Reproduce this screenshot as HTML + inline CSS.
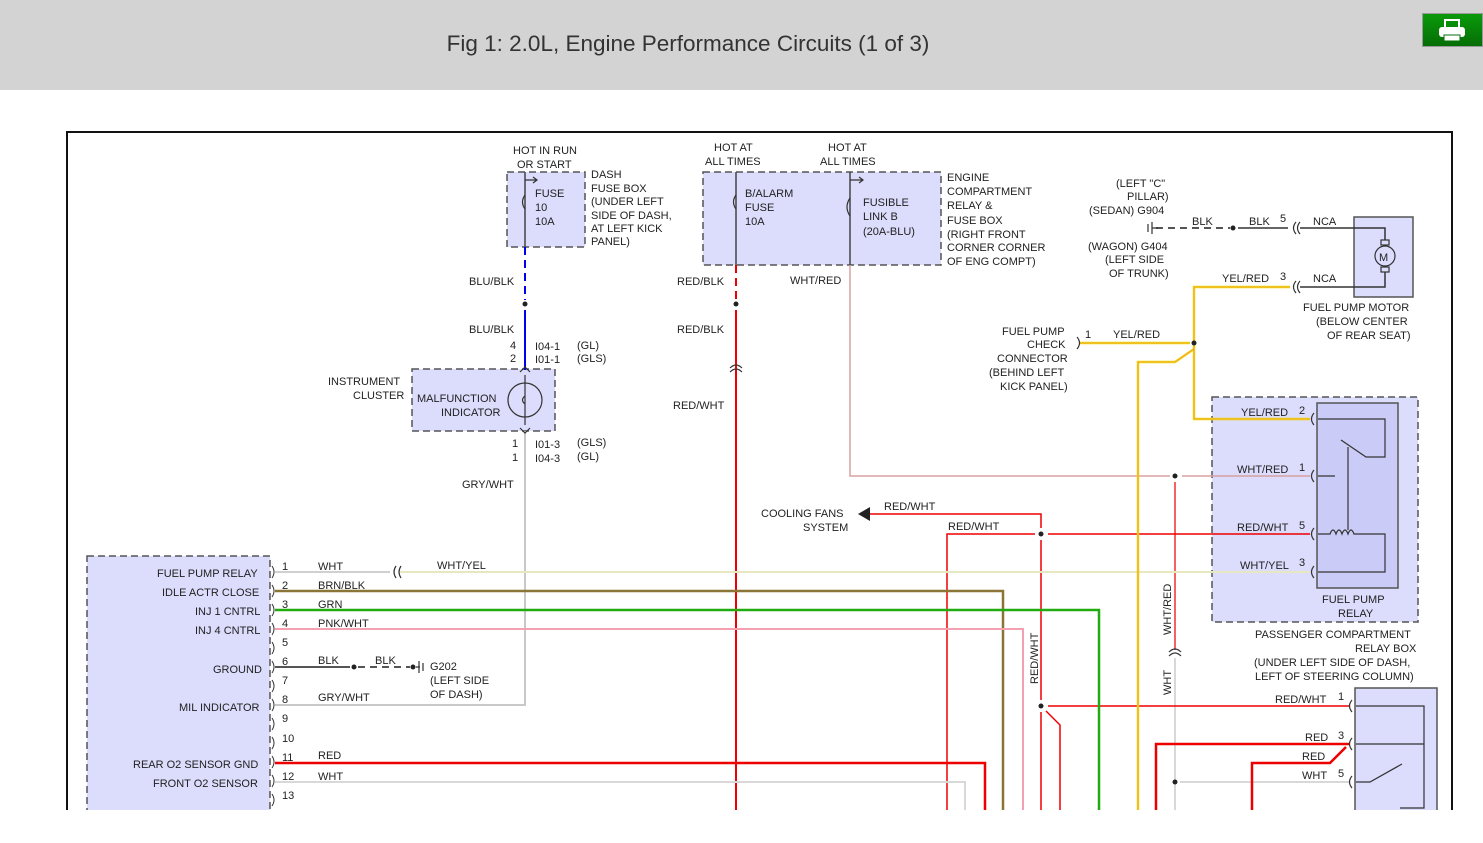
<!DOCTYPE html>
<html><head><meta charset="utf-8"><style>
body{margin:0;width:1483px;height:843px;overflow:hidden;background:#fff;font-family:"Liberation Sans",sans-serif}
.hd{position:absolute;left:0;top:0;width:1483px;height:90px;background:#d3d3d3}
.tt{position:absolute;left:0;width:1376px;top:31px;text-align:center;font-size:22.5px;color:#333}
.pb{position:absolute;left:1422px;top:13px;width:61px;height:34px;background:linear-gradient(#0a9a0a,#066e06);border:1px solid #999;box-sizing:border-box}
svg{position:absolute;left:0;top:0}
text{font-family:"Liberation Sans",sans-serif;font-size:11px;fill:#222}
</style></head><body>
<div class="hd"><div class="tt">Fig 1: 2.0L, Engine Performance Circuits (1 of 3)</div>
<div class="pb"><svg width="59" height="32" viewBox="0 0 59 32"><rect x="22" y="6" width="14" height="8" fill="none" stroke="#fff" stroke-width="2"/><rect x="16" y="13" width="26" height="10" rx="3" fill="#fff"/><rect x="21" y="21" width="16" height="6" fill="#fff" stroke="#066e06"/></svg></div></div>
<svg width="1483" height="843">
<rect x="67" y="132" width="1385" height="690" fill="none" stroke="#111" stroke-width="2"/>
<g stroke="#555" stroke-width="1.5" stroke-dasharray="7,4" fill="#dcdcfc">
<rect x="507" y="172" width="78" height="75"/>
<rect x="703" y="172" width="238" height="93"/>
<rect x="412" y="369" width="143" height="62"/>
<rect x="1212" y="397" width="206" height="225"/>
<rect x="87" y="556" width="183" height="260"/>
</g>
<rect x="1317" y="403" width="81" height="185" fill="#cbcbf8" stroke="#555" stroke-width="1.5"/>
<rect x="1354" y="217" width="59" height="80" fill="#dcdcfc" stroke="#555" stroke-width="1.5"/>
<rect x="1355" y="688" width="82" height="130" fill="#dcdcfc" stroke="#555" stroke-width="1.5"/>
<g fill="none" stroke-width="2">
<line x1="525" y1="172" x2="525" y2="247" stroke="#444" stroke-width="1.5"/>
<line x1="525" y1="247" x2="525" y2="300" stroke="#0000ee" stroke-dasharray="8,5"/>
<line x1="525" y1="310" x2="525" y2="370" stroke="#0000ee"/>
<path d="M525 431 V705 H275" stroke="#c8c8c8"/>
<line x1="736" y1="172" x2="736" y2="265" stroke="#444" stroke-width="1.5"/>
<line x1="736" y1="265" x2="736" y2="300" stroke="#ee0000" stroke-dasharray="8,5"/>
<line x1="736" y1="310" x2="736" y2="810" stroke="#ee0000"/>
<line x1="850" y1="172" x2="850" y2="265" stroke="#444" stroke-width="1.5"/>
<path d="M850 265 V476 H1170 M1182 476 H1310" stroke="#d8a0a0" stroke-width="1.5"/>
<path d="M1175 482 V650" stroke="#ee3030" stroke-width="1.5"/>
<path d="M1175 658 V810" stroke="#d8d8d8"/>
<path d="M870 514 H1041 V528 M1041 540 V700 M1041 712 V810 M1046 711 L1060 725 V810" stroke="#ee0000" stroke-width="1.5"/>
<path d="M947 810 V534 H1035 M1048 534 H1310 M1048 706 H1350" stroke="#ee0000" stroke-width="1.5"/>
<path d="M1180 782 H1350" stroke="#d8d8d8"/>
<path d="M275 572 H390" stroke="#d0d0d0"/>
<path d="M400 572 H1310" stroke="#e8e8c0"/>
<path d="M275 591 H1003 V810" stroke="#8b7536" stroke-width="2.5"/>
<path d="M275 610 H1099 V810" stroke="#22aa11" stroke-width="2.5"/>
<path d="M275 629 H1023 V810" stroke="#f4a0b0"/>
<path d="M275 667 H350" stroke="#555"/>
<path d="M358 667 H410" stroke="#555" stroke-dasharray="7,5"/>
<path d="M275 763 H985 V810" stroke="#ee0000" stroke-width="2.5"/>
<path d="M275 782 H965 V810" stroke="#d8d8d8"/>
<path d="M1310 419 H1194 V287 H1290 M1080 343 H1190 M1194 349 L1175 362 H1138 V810" stroke="#f0d800" stroke-width="2.5"/>
<path d="M1310 419 H1194 V287 H1290 M1080 343 H1190 M1194 349 L1175 362 H1138 V810" stroke="#f08080" stroke-width="0.6"/>
<path d="M1156 228 H1230" stroke="#555" stroke-dasharray="7,5"/>
<path d="M1238 228 H1288 M1300 228 H1385 V240 M1300 287 H1385 V272" stroke="#333" stroke-width="1.5"/>
<path d="M1350 744 H1156 V810 M1346 747 L1330 763 H1252 V810" stroke="#ee0000" stroke-width="2.5"/>
</g>
<g fill="#222">
<circle cx="525" cy="304" r="2.5"/><circle cx="736" cy="304" r="2.5"/><circle cx="1175" cy="476" r="2.5"/>
<circle cx="1041" cy="534" r="2.5"/><circle cx="1041" cy="706" r="2.5"/><circle cx="1175" cy="782" r="2.5"/>
<circle cx="1194" cy="343" r="2.5"/><circle cx="1233" cy="228" r="2.5"/><circle cx="354" cy="667" r="2.5"/><circle cx="413" cy="667" r="2.5"/>
<polygon points="858,514 870,507 870,521"/>
</g>
<g fill="none" stroke="#333" stroke-width="1.2">
<circle cx="525" cy="400" r="17"/><path d="M525 375 V425 M520 372 L525 367 L530 372 M520 428 L525 433 L530 428 M525 396 q-5 4 0 8"/>
<path d="M525 180 H536 M533 177 L537 180 L533 183 M525 195 q-5 7 0 14 M850 180 H862 M859 177 L863 180 L859 183 M850 198 q-6 9 0 18 M736 195 q-5 7 0 14"/>
<path d="M730 368 q6 -6 12 0 M730 372 q6 -6 12 0"/>
<path d="M1169 652 q6 -6 12 0 M1169 656 q6 -6 12 0"/>
<path d="M396 566 q-4 6 0 12 M401 566 q-4 6 0 12"/>
<path d="M419 661 V673 M423 663 V671 M416 667 H420"/>
<path d="M1152 222 V234 M1148 224 V232 M1152 228 H1158"/>
<circle cx="1385" cy="256" r="10"/><rect x="1381" y="240" width="8" height="5"/><rect x="1381" y="267" width="8" height="5"/>
<path d="M1296 222 q-5 6 0 12 M1300 222 q-5 6 0 12 M1296 281 q-5 6 0 12 M1300 281 q-5 6 0 12"/>
<path d="M1077 337 q5 6 0 12"/>
<path d="M1314 413 q-5 6 0 12 M1314 470 q-5 6 0 12 M1314 528 q-5 6 0 12 M1314 566 q-5 6 0 12 M1352 700 q-5 6 0 12 M1352 738 q-5 6 0 12 M1352 776 q-5 6 0 12"/>
<path d="M1318 419 H1385 V457 H1366 L1341 440 M1318 476 H1335 M1318 534 H1330 q3 -8 6 0 q3 -8 6 0 q3 -8 6 0 q3 -8 6 0 H1385 V572 H1318 M1348 447 V530" />
<path d="M1356 706 H1424 V808 H1400 M1356 744 H1424 M1356 782 H1370 L1402 764"/>
<g stroke-width="1">
<path d="M272 566 q4 6 0 12 M272 585 q4 6 0 12 M272 604 q4 6 0 12 M272 623 q4 6 0 12 M272 642 q4 6 0 12 M272 661 q4 6 0 12 M272 680 q4 6 0 12 M272 699 q4 6 0 12 M272 718 q4 6 0 12 M272 737 q4 6 0 12 M272 756 q4 6 0 12 M272 775 q4 6 0 12 M272 794 q4 6 0 12"/>
</g></g>
<rect x="0" y="810" width="1483" height="33" fill="#fff"/>
<g>
<text x="513" y="154">HOT IN RUN</text><text x="517" y="168">OR START</text>
<text x="591" y="178">DASH</text><text x="591" y="192">FUSE BOX</text><text x="591" y="205">(UNDER LEFT</text><text x="591" y="219">SIDE OF DASH,</text><text x="591" y="232">AT LEFT KICK</text><text x="591" y="245">PANEL)</text>
<text x="535" y="197">FUSE</text><text x="535" y="211">10</text><text x="535" y="225">10A</text>
<text x="469" y="285">BLU/BLK</text><text x="469" y="333">BLU/BLK</text>
<text x="510" y="349">4</text><text x="510" y="362">2</text><text x="535" y="350">I04-1</text><text x="535" y="363">I01-1</text><text x="577" y="349">(GL)</text><text x="577" y="362">(GLS)</text>
<text x="328" y="385">INSTRUMENT</text><text x="353" y="399">CLUSTER</text><text x="417" y="402">MALFUNCTION</text><text x="441" y="416">INDICATOR</text>
<text x="512" y="447">1</text><text x="512" y="461">1</text><text x="535" y="448">I01-3</text><text x="535" y="462">I04-3</text><text x="577" y="446">(GLS)</text><text x="577" y="460">(GL)</text>
<text x="462" y="488">GRY/WHT</text>
<text x="714" y="151">HOT AT</text><text x="705" y="165">ALL TIMES</text><text x="828" y="151">HOT AT</text><text x="820" y="165">ALL TIMES</text>
<text x="745" y="197">B/ALARM</text><text x="745" y="211">FUSE</text><text x="745" y="225">10A</text>
<text x="863" y="206">FUSIBLE</text><text x="863" y="220">LINK B</text><text x="863" y="235">(20A-BLU)</text>
<text x="947" y="181">ENGINE</text><text x="947" y="195">COMPARTMENT</text><text x="947" y="209">RELAY &amp;</text><text x="947" y="224">FUSE BOX</text><text x="947" y="238">(RIGHT FRONT</text><text x="947" y="251">CORNER CORNER</text><text x="947" y="265">OF ENG COMPT)</text>
<text x="677" y="285">RED/BLK</text><text x="790" y="284">WHT/RED</text><text x="677" y="333">RED/BLK</text><text x="673" y="409">RED/WHT</text>
<text x="1116" y="187">(LEFT "C"</text><text x="1127" y="200">PILLAR)</text><text x="1089" y="214">(SEDAN) G904</text>
<text x="1088" y="250">(WAGON) G404</text><text x="1105" y="263">(LEFT SIDE</text><text x="1109" y="277">OF TRUNK)</text>
<text x="1192" y="225">BLK</text><text x="1249" y="225">BLK</text><text x="1280" y="222">5</text><text x="1313" y="225">NCA</text>
<text x="1222" y="282">YEL/RED</text><text x="1280" y="280">3</text><text x="1313" y="282">NCA</text>
<text x="1303" y="311">FUEL PUMP MOTOR</text><text x="1316" y="325">(BELOW CENTER</text><text x="1327" y="339">OF REAR SEAT)</text>
<text x="1002" y="335">FUEL PUMP</text><text x="1027" y="348">CHECK</text><text x="997" y="362">CONNECTOR</text><text x="989" y="376">(BEHIND LEFT</text><text x="1000" y="390">KICK PANEL)</text>
<text x="1085" y="338">1</text><text x="1113" y="338">YEL/RED</text>
<text x="1379" y="261" font-size="13">M</text>
<text x="1241" y="416">YEL/RED</text><text x="1299" y="414">2</text><text x="1237" y="473">WHT/RED</text><text x="1299" y="471">1</text>
<text x="1237" y="531">RED/WHT</text><text x="1299" y="529">5</text><text x="1240" y="569">WHT/YEL</text><text x="1299" y="566">3</text>
<text x="1322" y="603">FUEL PUMP</text><text x="1338" y="617">RELAY</text>
<text x="1255" y="638">PASSENGER COMPARTMENT</text><text x="1355" y="652">RELAY BOX</text><text x="1254" y="666">(UNDER LEFT SIDE OF DASH,</text><text x="1255" y="680">LEFT OF STEERING COLUMN)</text>
<text x="1275" y="703">RED/WHT</text><text x="1338" y="700">1</text><text x="1305" y="741">RED</text><text x="1338" y="739">3</text><text x="1302" y="760">RED</text><text x="1302" y="779">WHT</text><text x="1338" y="777">5</text>
<text x="761" y="517">COOLING FANS</text><text x="803" y="531">SYSTEM</text><text x="884" y="510">RED/WHT</text><text x="948" y="530">RED/WHT</text>
<text transform="translate(1038,684) rotate(-90)">RED/WHT</text>
<text transform="translate(1171,635) rotate(-90)">WHT/RED</text>
<text transform="translate(1171,695) rotate(-90)">WHT</text>
<text x="157" y="577">FUEL PUMP RELAY</text><text x="162" y="596">IDLE ACTR CLOSE</text><text x="195" y="615">INJ 1 CNTRL</text><text x="195" y="634">INJ 4 CNTRL</text>
<text x="213" y="673">GROUND</text><text x="179" y="711">MIL INDICATOR</text><text x="133" y="768">REAR O2 SENSOR GND</text><text x="153" y="787">FRONT O2 SENSOR</text>
<g font-size="10"><text x="282" y="570">1</text><text x="282" y="589">2</text><text x="282" y="608">3</text><text x="282" y="627">4</text><text x="282" y="646">5</text><text x="282" y="665">6</text><text x="282" y="684">7</text><text x="282" y="703">8</text><text x="282" y="722">9</text><text x="282" y="742">10</text><text x="282" y="761">11</text><text x="282" y="780">12</text><text x="282" y="799">13</text></g>
<text x="318" y="570">WHT</text><text x="437" y="569">WHT/YEL</text><text x="318" y="589">BRN/BLK</text><text x="318" y="608">GRN</text><text x="318" y="627">PNK/WHT</text>
<text x="318" y="664">BLK</text><text x="375" y="664">BLK</text><text x="430" y="670">G202</text><text x="430" y="684">(LEFT SIDE</text><text x="430" y="698">OF DASH)</text>
<text x="318" y="701">GRY/WHT</text><text x="318" y="759">RED</text><text x="318" y="780">WHT</text>
</g>
</svg>
</body></html>
